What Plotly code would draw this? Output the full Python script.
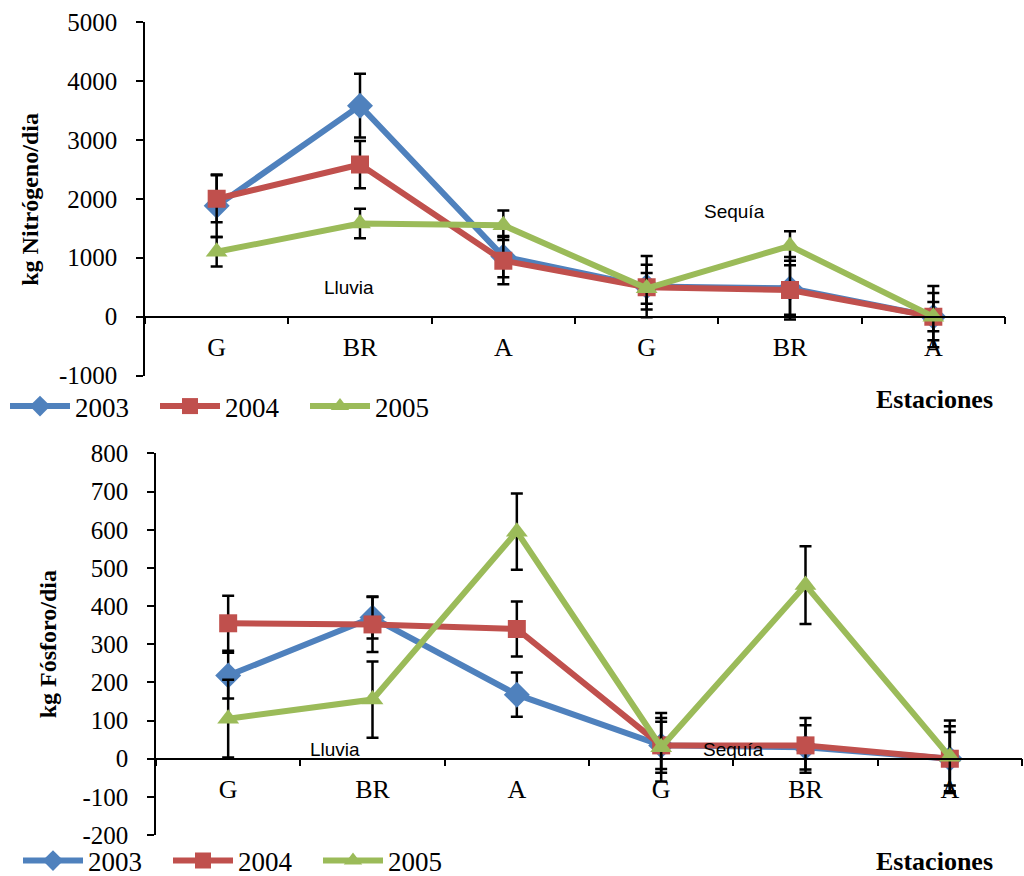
import plotly.graph_objects as go

# ---------------- data ----------------
categories = ["G", "BR", "A", "G", "BR", "A"]
years = ["2003", "2004", "2005"]

# Nitrogen (kg/dia)
n2003 = [1880, 3580, 1020, 510, 480, 0]
n2003_err = [530, 540, 350, 520, 530, 520]
n2004 = [2000, 2580, 950, 500, 450, 0]
n2004_err = [400, 400, 400, 380, 420, 400]
n2005 = [1100, 1580, 1550, 480, 1200, 0]
n2005_err = [250, 250, 250, 260, 250, 250]
n_ticks = [-1000, 0, 1000, 2000, 3000, 4000, 5000]

# Phosphorus (kg/dia)
p2003 = [218, 370, 168, 35, 30, 0]
p2003_err = [60, 55, 58, 62, 58, 70]
p2004 = [355, 352, 340, 35, 35, 0]
p2004_err = [72, 72, 72, 72, 72, 85]
p2005 = [105, 155, 595, 30, 455, 5]
p2005_err = [102, 100, 100, 90, 102, 95]
p_ticks = [-200, -100, 0, 100, 200, 300, 400, 500, 600, 700, 800]

colors = ["#4F81BD", "#C0504D", "#9BBB59"]
symbols = ["diamond", "square", "triangle-up"]
msizes = [20, 18, 19]

SERIF = "Liberation Serif, Times New Roman, serif"
SANS = "Liberation Sans, Arial, sans-serif"

xpos = list(range(len(categories)))

fig = go.Figure()

n_series = [(n2003, n2003_err), (n2004, n2004_err), (n2005, n2005_err)]
p_series = [(p2003, p2003_err), (p2004, p2004_err), (p2005, p2005_err)]

for i, (vals, errs) in enumerate(n_series):
    fig.add_trace(go.Scatter(
        x=xpos, y=vals, name=years[i], mode="lines+markers",
        line=dict(color=colors[i], width=6),
        marker=dict(symbol=symbols[i], size=msizes[i], color=colors[i]),
        error_y=dict(type="data", array=errs, color="black", thickness=2.5, width=6),
        xaxis="x", yaxis="y", legend="legend",
    ))

for i, (vals, errs) in enumerate(p_series):
    fig.add_trace(go.Scatter(
        x=xpos, y=vals, name=years[i], mode="lines+markers",
        line=dict(color=colors[i], width=6),
        marker=dict(symbol=symbols[i], size=msizes[i], color=colors[i]),
        error_y=dict(type="data", array=errs, color="black", thickness=2.5, width=6),
        xaxis="x2", yaxis="y2", legend="legend2",
    ))

# figure height slightly larger than the target; the capture compresses it to 876
W, H = 1024, 886
REF_H = 876


def px(x):
    return x / W


def py(y):
    return 1 - y / REF_H


top_x = [px(145), px(1005)]
top_y = [py(376), py(22)]
bot_x = [px(156), px(1022)]
bot_y = [py(836), py(454)]

top_range = [n_ticks[0], n_ticks[-1]]
bot_range = [p_ticks[0], p_ticks[-1]]


def zero_pos(dom, rng):
    return dom[0] + (0 - rng[0]) / (rng[1] - rng[0]) * (dom[1] - dom[0])


boundaries = [i - 0.5 for i in range(len(categories) + 1)]


def xaxis_cfg(dom, anchor_pos):
    return dict(
        domain=dom, range=[-0.5, len(categories) - 0.5],
        anchor="free", position=anchor_pos,
        showline=True, linecolor="black", linewidth=1.5,
        showgrid=False, zeroline=False,
        tickmode="array", tickvals=xpos, ticktext=categories,
        ticks="outside", ticklen=7, tickcolor="rgba(0,0,0,0)",
        tickfont=dict(family=SERIF, size=26, color="black"),
        minor=dict(tickmode="array", tickvals=boundaries, ticks="outside",
                   ticklen=7, tickwidth=1.5, tickcolor="black"),
        automargin=False, fixedrange=True,
    )


def yaxis_cfg(dom, rng, ticks, anchor):
    return dict(
        domain=dom, range=rng,
        tickmode="array", tickvals=ticks, ticktext=[str(t) for t in ticks],
        anchor=anchor,
        showline=True, linecolor="black", linewidth=1.5,
        showgrid=False, zeroline=False,
        ticks="outside", ticklen=7, tickwidth=1.5, tickcolor="black",
        tickfont=dict(family=SERIF, size=25, color="black"),
        ticklabelstandoff=14,
        automargin=False, fixedrange=True,
    )


legend_common = dict(orientation="h", xanchor="left", yanchor="middle",
                     font=dict(family=SERIF, size=27, color="black"),
                     itemwidth=60, entrywidth=75, entrywidthmode="pixels",
                     bgcolor="rgba(0,0,0,0)")

fig.update_layout(
    width=W, height=H,
    margin=dict(l=0, r=0, t=0, b=0),
    paper_bgcolor="white", plot_bgcolor="white",
    xaxis=xaxis_cfg(top_x, zero_pos(top_y, top_range)),
    yaxis=yaxis_cfg(top_y, top_range, n_ticks, "x"),
    xaxis2=xaxis_cfg(bot_x, zero_pos(bot_y, bot_range)),
    yaxis2=yaxis_cfg(bot_y, bot_range, p_ticks, "x2"),
    legend=dict(x=px(5), y=py(407), **legend_common),
    legend2=dict(x=px(18), y=py(862), **legend_common),
    showlegend=True,
)

annotations = [
    dict(text="<b>kg Nitrógeno/dia</b>", x=px(30), y=py(200), xref="paper", yref="paper",
         xanchor="center", yanchor="middle",
         textangle=-90, showarrow=False, font=dict(family=SERIF, size=24, color="black")),
    dict(text="<b>kg Fósforo/dia</b>", x=px(48), y=py(645), xref="paper", yref="paper",
         xanchor="center", yanchor="middle",
         textangle=-90, showarrow=False, font=dict(family=SERIF, size=24, color="black")),
    dict(text="<b>Estaciones</b>", x=px(934), y=py(400), xref="paper", yref="paper",
         xanchor="center", yanchor="middle",
         showarrow=False, font=dict(family=SERIF, size=26, color="black")),
    dict(text="<b>Estaciones</b>", x=px(934), y=py(862), xref="paper", yref="paper",
         xanchor="center", yanchor="middle",
         showarrow=False, font=dict(family=SERIF, size=26, color="black")),
    dict(text="Lluvia", x=0.92, y=500, xref="x", yref="y", showarrow=False,
         font=dict(family=SANS, size=19, color="black")),
    dict(text="Sequía", x=3.61, y=1780, xref="x", yref="y", showarrow=False,
         font=dict(family=SANS, size=19, color="black")),
    dict(text="Lluvia", x=0.74, y=24, xref="x2", yref="y2", showarrow=False,
         font=dict(family=SANS, size=19, color="black")),
    dict(text="Sequía", x=3.5, y=24, xref="x2", yref="y2", showarrow=False,
         font=dict(family=SANS, size=19, color="black")),
]
fig.update_layout(annotations=annotations)

fig.write_html(
    "out.html",
    config={"displayModeBar": False},
    post_script="document.body.style.margin='0';document.body.style.overflow='hidden';",
)
